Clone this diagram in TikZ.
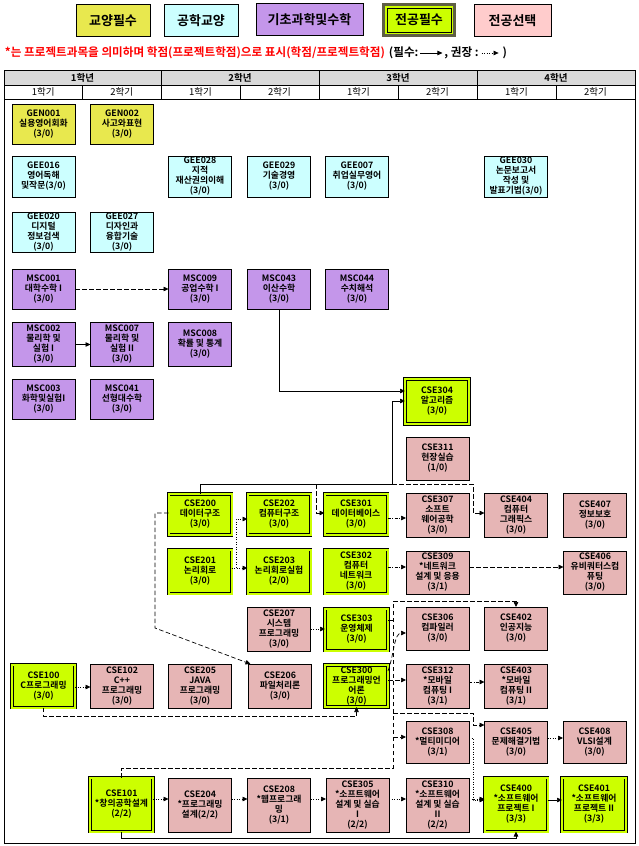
\documentclass[tikz,border=0pt]{standalone}
\usepackage{fontspec}
\setmainfont{Noto Sans CJK KR}[BoldFont={Noto Sans CJK KR Bold}]
\usetikzlibrary{arrows.meta}
\definecolor{cyel}{HTML}{E8E84E}
\definecolor{ccyan}{HTML}{CCFFFF}
\definecolor{cpurp}{HTML}{C496EA}
\definecolor{clime}{HTML}{CCFF00}
\definecolor{cpink}{HTML}{E6B5B5}
\definecolor{cpinkl}{HTML}{FFCCCC}
\definecolor{cgray}{HTML}{D9D9D9}
\definecolor{cframe}{HTML}{5F5F45}
\definecolor{cred}{HTML}{FF0000}
\begin{document}
\begin{tikzpicture}[x=1pt,y=-1pt,
  every node/.style={inner sep=0pt, outer sep=0pt},
  bx/.style={draw=black, line width=0.6pt, minimum width=63pt, minimum height=40pt, align=center, font=\fontsize{8.8}{10}\selectfont\bfseries},
  hh/.style={minimum height=#1},
  gy/.style={bx, fill=cyel},
  ge/.style={bx, fill=ccyan},
  ms/.style={bx, fill=cpurp},
  op/.style={bx, fill=cpink},
  rq/.style={bx, fill=clime, double=clime, double distance=2pt},
  lg/.style={draw=black, line width=0.6pt, minimum height=32pt, font=\fontsize{13}{14}\selectfont\bfseries},
  hd/.style={font=\fontsize{9.5}{10}\selectfont\bfseries},
  sm/.style={font=\fontsize{9.5}{10}\selectfont},
  nt/.style={font=\fontsize{11.6}{12}\selectfont\bfseries},
  lreq/.style={line width=0.7pt, -{Triangle[length=5pt,width=4.5pt]}},
  lrec/.style={lreq, dash pattern=on 4.5pt off 2.5pt},
  ldot/.style={lreq, dash pattern=on 1pt off 1.5pt},
  ldd/.style={lreq, dash pattern=on 3pt off 1.5pt on 1pt off 1.5pt}
]
\useasboundingbox (0,0) rectangle (639,846);

% ---------- legend ----------
\node[lg, fill=cyel, minimum width=74pt] (L1) at (113,20.5) {교양필수};
\node[lg, fill=ccyan, minimum width=74pt] (L2) at (201,20.5) {공학교양};
\node[lg, fill=cpurp, minimum width=107pt] (L3) at (309.5,19.5) {기초과학및수학};
\draw[line width=2.6pt, draw=cframe, fill=clime] (383.5,4.5) rectangle (454.5,35.5);
\node[lg, fill=clime, minimum width=64pt, minimum height=24pt] (L4) at (419,20) {전공필수};
\node[lg, fill=cpinkl, minimum width=77pt] (L5) at (512.5,20.5) {전공선택};

% ---------- note ----------
\node[nt, anchor=west, text=cred] (n1) at (5,53) {*는 프로젝트과목을 의미하며 학점(프로젝트학점)으로 표시(학점/프로젝트학점)};
\node[nt, anchor=west] (n2) at ([xshift=4pt]n1.east) {(필수:};
\draw[lreq] ([xshift=2pt]n2.east) -- ([xshift=24pt]n2.east);
\node[nt, anchor=west] (n3) at ([xshift=26pt]n2.east) {, 권장 :};
\draw[ldot] ([xshift=3pt]n3.east) -- ([xshift=20pt]n3.east);
\node[nt, anchor=west] (n4) at ([xshift=24pt]n3.east) {)};

% ---------- table ----------
\draw[fill=cgray, line width=0.6pt] (4,70) rectangle (635,85);
\draw[line width=0.6pt] (4,85) rectangle (635,99);
\foreach \x in {161,319,477} \draw[line width=0.6pt] (\x,70) -- (\x,99);
\foreach \x in {82.5,240,398,556} \draw[line width=0.6pt] (\x,85) -- (\x,99);
\node[hd] (y1) at (82.5,77.5) {1학년};
\node[hd] (y2) at (240,77.5) {2학년};
\node[hd] (y3) at (398,77.5) {3학년};
\node[hd] (y4) at (556,77.5) {4학년};
\node[sm] (s1) at (43.25,92) {1학기};
\node[sm] (s2) at (121.75,92) {2학기};
\node[sm] (s3) at (200.5,92) {1학기};
\node[sm] (s4) at (279.5,92) {2학기};
\node[sm] (s5) at (358.5,92) {1학기};
\node[sm] (s6) at (437.5,92) {2학기};
\node[sm] (s7) at (516.5,92) {1학기};
\node[sm] (s8) at (595.5,92) {2학기};
\draw[line width=0.8pt] (4,99) -- (4,843) -- (635,843) -- (635,99);

% ---------- general ----------
\node[gy] (GEN001) at (43.5,124) {GEN001\\실용영어회화\\(3/0)};
\node[gy] (GEN002) at (122,124) {GEN002\\사고와표현\\(3/0)};
\node[ge, hh=41pt] (GEE016) at (43.5,176.5) {GEE016\\영어독해\\및작문(3/0)};
\node[ge, hh=41pt] (GEE028) at (200,176.5) {GEE028\\지적\\재산권의이해\\(3/0)};
\node[ge, hh=41pt] (GEE029) at (279,176.5) {GEE029\\기술경영\\(3/0)};
\node[ge, hh=41pt] (GEE007) at (357,176.5) {GEE007\\취업실무영어\\(3/0)};
\node[ge, hh=41pt] (GEE030) at (516,176.5) {GEE030\\논문보고서\\작성 및\\발표기법(3/0)};
\node[ge] (GEE020) at (43.5,232) {GEE020\\디지털\\정보검색\\(3/0)};
\node[ge] (GEE027) at (122,232) {GEE027\\디자인과\\융합기술\\(3/0)};

% ---------- math/science ----------
\node[ms] (MSC001) at (43.5,289) {MSC001\\대학수학 I\\(3/0)};
\node[ms] (MSC009) at (200,289) {MSC009\\공업수학 I\\(3/0)};
\node[ms] (MSC043) at (279,289) {MSC043\\이산수학\\(3/0)};
\node[ms] (MSC044) at (357,289) {MSC044\\수치해석\\(3/0)};
\node[ms, hh=44pt] (MSC002) at (43.5,344.5) {MSC002\\물리학 및\\실험 I\\(3/0)};
\node[ms, hh=44pt] (MSC007) at (122,344.5) {MSC007\\물리학 및\\실험 II\\(3/0)};
\node[ms, hh=44pt] (MSC008) at (200,344.5) {MSC008\\확률 및 통계\\(3/0)};
\node[ms] (MSC003) at (43.5,399) {MSC003\\화학및실험I\\(3/0)};
\node[ms] (MSC041) at (122,399) {MSC041\\선형대수학\\(3/0)};

% ---------- major ----------
\node[rq, hh=45pt, minimum width=64pt] (CSE304) at (437,401.5) {CSE304\\알고리즘\\(3/0)};
\node[op, hh=43pt] (CSE311) at (437.5,458.5) {CSE311\\현장실습\\(1/0)};

\node[rq, hh=41pt] (CSE200) at (200,514.5) {CSE200\\데이터구조\\(3/0)};
\node[rq, hh=41pt] (CSE202) at (279,514.5) {CSE202\\컴퓨터구조\\(3/0)};
\node[rq, hh=41pt] (CSE301) at (356,514.5) {CSE301\\데이터베이스\\(3/0)};
\node[op, hh=44pt] (CSE307) at (437.5,515) {CSE307\\소프트\\웨어공학\\(3/0)};
\node[op, hh=44pt] (CSE404) at (516,515) {CSE404\\컴퓨터\\그래픽스\\(3/0)};
\node[op, hh=44pt] (CSE407) at (595,515) {CSE407\\정보보호\\(3/0)};

\node[rq, hh=44pt] (CSE201) at (200,571.5) {CSE201\\논리회로\\(3/0)};
\node[rq, hh=44pt] (CSE203) at (279,571.5) {CSE203\\논리회로실험\\(2/0)};
\node[rq, hh=44pt] (CSE302) at (356,571.5) {CSE302\\컴퓨터\\네트워크\\(3/0)};
\node[op, hh=43pt] (CSE309) at (437.5,572.5) {CSE309\\*네트워크\\설계 및 응용\\(3/1)};
\node[op, hh=43pt] (CSE406) at (595,572.5) {CSE406\\유비쿼터스컴\\퓨팅\\(3/0)};

\node[op, hh=44pt] (CSE207) at (279,629) {CSE207\\시스템\\프로그래밍\\(3/0)};
\node[rq, hh=42pt] (CSE303) at (356.5,629.5) {CSE303\\운영체제\\(3/0)};
\node[op, hh=43pt] (CSE306) at (437.5,628.5) {CSE306\\컴파일러\\(3/0)};
\node[op, hh=43pt] (CSE402) at (516,628.5) {CSE402\\인공지능\\(3/0)};

\node[rq, hh=43pt] (CSE100) at (43.5,686) {CSE100\\C프로그래밍\\(3/0)};
\node[op, hh=44pt] (CSE102) at (122,686) {CSE102\\C++\\프로그래밍\\(3/0)};
\node[op, hh=44pt] (CSE205) at (200,686) {CSE205\\JAVA\\프로그래밍\\(3/0)};
\node[op, hh=44pt] (CSE206) at (280,686) {CSE206\\파일처리론\\(3/0)};
\node[rq, hh=42pt] (CSE300) at (356.5,686) {CSE300\\프로그래밍언\\어론\\(3/0)};
\node[op, hh=44pt] (CSE312) at (437.5,686) {CSE312\\*모바일\\컴퓨팅 I\\(3/1)};
\node[op, hh=44pt] (CSE403) at (516,686) {CSE403\\*모바일\\컴퓨팅 II\\(3/1)};

\node[op, hh=42pt] (CSE308) at (437.5,742) {CSE308\\*멀티미디어\\(3/1)};
\node[op, hh=42pt] (CSE405) at (516,742) {CSE405\\문제해결기법\\(3/0)};
\node[op, hh=42pt] (CSE408) at (594.5,742) {CSE408\\VLSI설계\\(3/0)};

\node[rq, hh=54pt] (CSE101) at (121.5,804.5) {CSE101\\*창의공학설계\\(2/2)};
\node[op, hh=54pt] (CSE204) at (200,805) {CSE204\\*프로그래밍\\설계(2/2)};
\node[op, hh=54pt] (CSE208) at (279,805) {CSE208\\*웹프로그래\\밍\\(3/1)};
\node[op, hh=54pt] (CSE305) at (357.5,805) {CSE305\\*소프트웨어\\설계 및 실습\\I\\(2/2)};
\node[op, hh=54pt] (CSE310) at (437.5,805) {CSE310\\*소프트웨어\\설계 및 실습\\II\\(2/2)};
\node[rq, hh=54pt] (CSE400) at (516,804.5) {CSE400\\*소프트웨어\\프로젝트 I\\(3/3)};
\node[rq, hh=54pt, minimum width=64pt] (CSE401) at (594,804.5) {CSE401\\*소프트웨어\\프로젝트 II\\(3/3)};

% ---------- junctions ----------
\coordinate (j1) at (316,484);
\coordinate (j2) at (392,484);
\coordinate (t1) at (393,601);
\coordinate (t2) at (393,620);
\coordinate (t3) at (393,713);
\coordinate (t4) at (393,737);
\coordinate (t5) at (393,768);

% ---------- connectors ----------
\draw[lrec] (MSC001.east) -- (MSC009.west);
\draw[lreq] (MSC002.east) -- (MSC007.west);
\draw[lreq] (MSC043.south) |- (CSE304.west |- 0,391);

\draw[lrec] (j1) |- (CSE301.west |- 0,513);
\draw[lrec] (j2) -- (473,484) |- (CSE404.west |- 0,513);
\draw[lreq] (CSE200.north) |- (j2) |- (CSE304.west |- 0,401);
\draw[lrec] (CSE200.west |- 0,513) -- (155,513) -- (155,628) -- ([xshift=2pt]CSE206.north west);

\draw[ldot] (CSE201.east |- 0,568) -- (CSE203.west |- 0,568);
\draw[ldot] (CSE201.east |- 0,568) -- (236,568) |- (CSE202.west |- 0,519);
\draw[ldd] (CSE301.east |- 0,518) -- (CSE307.west |- 0,518);
\draw[ldd] (CSE302.east |- 0,567) -- (CSE309.west |- 0,567);
\draw[lrec] (CSE309.east |- 0,567) -- (CSE406.west |- 0,567);
\draw[ldot] (CSE207.east |- 0,629) -- (CSE303.west |- 0,629);

\draw[lrec] (CSE101.north) |- (t5) -- (t1) -| (CSE402.north);
\draw[lrec, -] (CSE303.east |- t2) -- (t2);
\draw[lrec] (t3) -- (473,713) |- (CSE405.west |- 0,725);
\draw[lrec] (t4) -- (CSE308.west |- t4);

\draw[lrec] (CSE300.east |- 0,671) .. controls (394,655) and (394,633) .. (CSE306.west |- 0,633);
\draw[lrec] (CSE300.east |- 0,680) -- (CSE312.west |- 0,680);
\draw[ldd] (CSE312.east |- 0,682) -- (CSE403.west |- 0,682);
\draw[ldot] (CSE100.east |- 0,687) -- (CSE102.west |- 0,687);
\draw[lrec] (CSE100.south) |- (CSE300.south |- 0,716) -- (CSE300.south);

\draw[ldot] (CSE405.east |- 0,738) -- (CSE408.west |- 0,738);
\draw[ldot] (CSE308.east |- 0,738) -- (473,738) |- (CSE400.west |- 0,800);

\draw[ldot] (CSE101.east |- 0,799) -- (CSE204.west |- 0,799);
\draw[ldot] (CSE204.east |- 0,799) -- (CSE208.west |- 0,799);
\draw[ldot] (CSE208.east |- 0,799) -- (CSE305.west |- 0,799);
\draw[ldot] (CSE305.east |- 0,799) -- (CSE310.west |- 0,799);
\draw[ldot] (CSE310.east |- 0,799) -- (CSE400.west |- 0,799);
\draw[lreq] (CSE400.east |- 0,800) -- (CSE401.west |- 0,800);
\draw[lreq] (CSE101.south) |- (CSE400.south |- 0,838) -- (CSE400.south);
\end{tikzpicture}
\end{document}
